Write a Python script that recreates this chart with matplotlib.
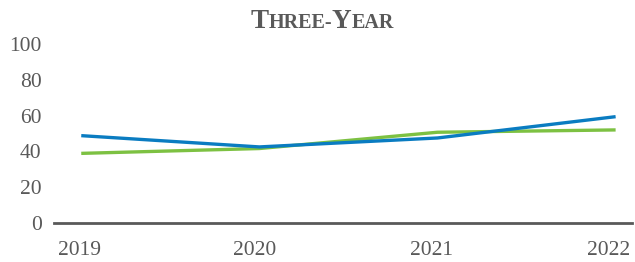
import matplotlib
matplotlib.use("Agg")
import matplotlib.pyplot as plt
from matplotlib.transforms import ScaledTranslation

years = ["2019", "2020", "2021", "2022"]
blue_vals = [48.8, 42.5, 47.5, 59.4]
green_vals = [38.9, 41.6, 50.7, 52.0]
y_ticks = [0, 20, 40, 60, 80, 100]

text_color = "#595959"
plt.rcParams["font.family"] = ["Liberation Serif", "DejaVu Serif"]

fig = plt.figure(figsize=(6.35, 2.62), dpi=100)
ax = fig.add_axes([54 / 635, 39 / 262, 578 / 635, 179 / 262])

x = list(range(len(years)))
ax.plot(x, green_vals, color="#7dc142", lw=2.4, solid_capstyle="butt")
ax.plot(x, blue_vals, color="#0a7cc1", lw=2.4, solid_capstyle="butt")

ax.set_xlim(-0.153, 3.092)
ax.set_ylim(0, 100)
ax.set_xticks(x)
ax.set_xticklabels(years)
ax.set_yticks(y_ticks)
ax.tick_params(length=0, labelsize=15.5, labelcolor=text_color)
ax.tick_params(axis="y", pad=9)
ax.tick_params(axis="x", pad=13)
for side in ["top", "right", "left"]:
    ax.spines[side].set_visible(False)
ax.spines["bottom"].set_color(text_color)
ax.spines["bottom"].set_linewidth(2)

# year labels sit a little left of their points, as in the original
shifts = [-2, -4.5, -6, -7.5]
for lab, dx in zip(ax.get_xticklabels(), shifts):
    lab.set_transform(lab.get_transform() + ScaledTranslation(dx / 100, 0, fig.dpi_scale_trans))

# small-caps title built from pieces
pieces = [("T", 19.5), ("HREE-", 14.5), ("Y", 19.5), ("EAR", 14.5)]
fig.canvas.draw()
renderer = fig.canvas.get_renderer()
texts = []
total = 0
for s, size in pieces:
    t = fig.text(0, 0, s, fontsize=size, fontweight="bold", color=text_color)
    w = t.get_window_extent(renderer).width
    texts.append((t, w))
    total += w
xpos = 322 - total / 2
for t, w in texts:
    t.set_position((xpos / 635, (262 - 28) / 262))
    t.set_va("baseline")
    xpos += w

fig.savefig("out.png", dpi=100)
